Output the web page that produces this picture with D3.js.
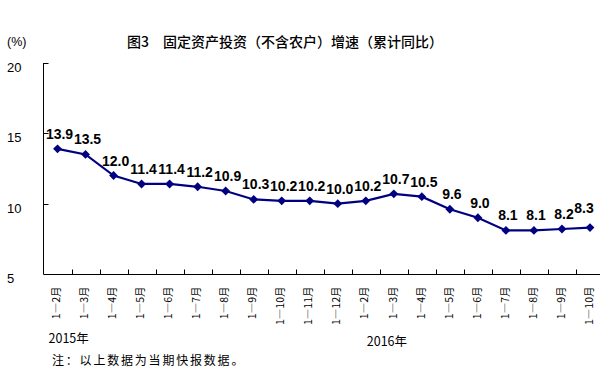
<!DOCTYPE html>
<html lang="zh">
<head>
<meta charset="UTF-8">
<script src="https://d3js.org/d3.v7.min.js"></script>
<style>
    body { margin: 0; background: #fff; }
    svg { display: block; }
    .cn { font-family: "Noto Sans CJK SC", sans-serif; }
    .num { font-family: "Liberation Sans", Arial, sans-serif; }
</style>
</head>
<body>
<div id="chart"></div>
<script>
// 2015: 1-2月 .. 1-12月, 2016: 1-2月 .. 1-10月
const months = ["1—2月", "1—3月", "1—4月", "1—5月", "1—6月", "1—7月", "1—8月", "1—9月", "1—10月", "1—11月", "1—12月",
                "1—2月", "1—3月", "1—4月", "1—5月", "1—6月", "1—7月", "1—8月", "1—9月", "1—10月"];
const growth = [13.9, 13.5, 12.0, 11.4, 11.4, 11.2, 10.9, 10.3, 10.2, 10.2, 10.0,
                10.2, 10.7, 10.5, 9.6, 9.0, 8.1, 8.1, 8.2, 8.3];
const yTicks = [5, 10, 15, 20];
const years = [{ label: "2015年", idx: 0 }, { label: "2016年", idx: 11 }];

const data = growth.map((v, i) => ({ i, month: months[i], value: v }));

const width = 600, height = 384;
const margin = { top: 63, right: 0, bottom: 110, left: 43.5 };

const svg = d3.select("#chart").append("svg")
    .attr("width", width)
    .attr("height", height);

const x = d3.scaleBand()
    .domain(d3.range(data.length))
    .range([margin.left, width + 4])
    .padding(0);

const y = d3.scaleLinear()
    .domain([5, 20])
    .range([height - margin.bottom, margin.top]);

const xc = i => x(i) + x.bandwidth() / 2;

// title
svg.append("text")
    .attr("class", "cn")
    .attr("x", 127)
    .attr("y", 47)
    .style("font-size", "14px")
    .style("font-weight", 500)
    .text("图3　固定资产投资（不含农户）增速（累计同比）");

svg.append("text")
    .attr("class", "num")
    .attr("x", 7)
    .attr("y", 46)
    .style("font-size", "12.5px")
    .text("(%)");

// y axis
svg.append("line")
    .attr("x1", margin.left).attr("x2", margin.left)
    .attr("y1", y(20)).attr("y2", y(5))
    .attr("stroke", "#000").attr("stroke-width", 1);

yTicks.forEach(t => {
    svg.append("line")
        .attr("x1", margin.left).attr("x2", margin.left + 5)
        .attr("y1", Math.round(y(t)) + 0.5).attr("y2", Math.round(y(t)) + 0.5)
        .attr("stroke", "#000");
    svg.append("text")
        .attr("class", "num")
        .attr("x", 7)
        .attr("y", y(t) + 9)
        .style("font-size", "13px")
        .text(t);
});

// x axis
const baseY = Math.round(y(5)) + 0.5;
svg.append("line")
    .attr("x1", margin.left).attr("x2", width)
    .attr("y1", baseY).attr("y2", baseY)
    .attr("stroke", "#000").attr("stroke-width", 1.2);

d3.range(1, data.length + 1).forEach(i => {
    const xx = Math.round(margin.left + i * x.bandwidth()) + 0.5;
    svg.append("line")
        .attr("x1", xx).attr("x2", xx)
        .attr("y1", baseY).attr("y2", baseY - 5)
        .attr("stroke", "#000");
});

svg.selectAll(".xlab")
    .data(data)
    .enter().append("text")
    .attr("class", "xlab cn")
    .attr("transform", d => `translate(${xc(d.i) - 1},${baseY + 12}) rotate(-90)`)
    .attr("text-anchor", "end")
    .attr("dy", "0.35em")
    .style("font-size", "10.5px")
    .text(d => d.month);

years.forEach(yr => {
    svg.append("text")
        .attr("class", "cn")
        .attr("x", x(yr.idx) + 5 + (yr.idx ? 10 : 0))
        .attr("y", yr.idx ? 346 : 343)
        .style("font-size", "12.5px")
        .text(yr.label);
});

svg.append("text")
    .attr("class", "cn")
    .attr("x", 52)
    .attr("y", 365)
    .style("font-size", "12px")
    .style("letter-spacing", "1.8px")
    .text("注：以上数据为当期快报数据。");

// line
const line = d3.line()
    .x(d => xc(d.i))
    .y(d => y(d.value));

svg.append("path")
    .datum(data)
    .attr("fill", "none")
    .attr("stroke", "#000080")
    .attr("stroke-width", 2.2)
    .attr("d", line);

svg.selectAll(".pt")
    .data(data)
    .enter().append("path")
    .attr("class", "pt")
    .attr("transform", d => `translate(${xc(d.i)},${y(d.value)})`)
    .attr("d", d3.symbol(d3.symbolDiamond2, 50))
    .attr("fill", "#000080");

// labels above points; keep them inside the right edge
const maxLabelX = width - 16;
svg.selectAll(".vlab")
    .data(data)
    .enter().append("text")
    .attr("class", "vlab num")
    .attr("x", d => Math.min(xc(d.i) + 2, maxLabelX))
    .attr("y", d => y(d.value) - (xc(d.i) + 2 > maxLabelX ? 15 : 10))
    .attr("text-anchor", "middle")
    .style("font-size", "14px")
    .style("font-weight", "bold")
    .text(d => d.value.toFixed(1));
</script>
</body>
</html>
